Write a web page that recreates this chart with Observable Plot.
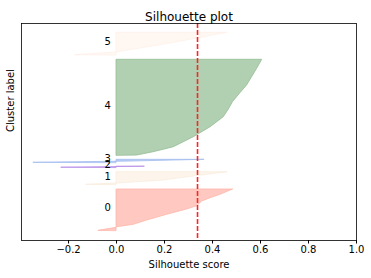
<!DOCTYPE html>
<html>
<head>
<meta charset="utf-8">
<script src="https://cdn.jsdelivr.net/npm/d3@7"></script>
<script src="https://cdn.jsdelivr.net/npm/@observablehq/plot@0.6"></script>
<style>
  html, body { margin: 0; padding: 0; background: #fff; }
</style>
</head>
<body>
<div id="chart"></div>
<script>
// ---- data ----
const clusterLabels = ["0", "1", "2", "3", "4", "5"];
// each profile: [sample position, silhouette value] along the sorted cluster
const profile0 = [[9.7,-0.074],[12.7,0.0],[13.3,0.003],[15.7,0.072],[20,0.128],[25.7,0.211],[31,0.294],[34.3,0.336],[39,0.357],[42.3,0.392],[45.7,0.433],[51,0.486]];
const profile1 = [[55.7,-0.125],[57,0.0],[60,0.196],[64,0.32],[68.3,0.463]];
const profile2 = [[72.8,-0.229],[73.8,0.118]];
const profile3 = [[77.7,-0.345],[78.9,0.05],[80.7,0.367]];
const profile4 = [[85,0.086],[88.3,0.155],[93.3,0.239],[103.3,0.322],[113.3,0.392],[123.3,0.447],[131,0.468],[138.3,0.485],[147,0.515],[155,0.544],[171.7,0.586],[180.7,0.607]];
const profile5 = [[185.3,-0.171],[188,0.0],[196,0.2],[203,0.36],[207.7,0.461]];
const meanScore = 0.3375;
const xTicks = [-0.2, 0.0, 0.2, 0.4, 0.6, 0.8, 1.0];
const xDomain = [-0.396, 1.0];
const yDomain = [0, 217];

// ---- styles ----
const fills   = ["#ffc8c0", "#fdf5ec", "#c9a4ee", "#b9cdf4", "#b1d0b1", "#fff7f2"];
const strokes = ["#ffb6aa", "#f9ecdd", "#b88ee8", "#a3bdf0", "#94bd94", "#fff0e8"];

const profiles = [profile0, profile1, profile2, profile3, profile4, profile5];
const areaData = profiles.map((p, i) => p.map(([y, v]) => ({cluster: i, y, v})));
const labelData = profiles.map((p, i) => ({
  label: clusterLabels[i],
  y: (p[0][0] + p[p.length - 1][0]) / 2
}));

const font = "DejaVu Sans, Liberation Sans, sans-serif";

const marks = [];
areaData.forEach((d, i) => {
  marks.push(Plot.areaX(d, {
    y: "y", x1: 0, x2: "v", curve: "linear",
    fill: fills[i], stroke: strokes[i], strokeWidth: 0.8
  }));
});
marks.push(Plot.text(labelData, {
  x: -0.05, y: "y", text: "label", textAnchor: "start", lineAnchor: "bottom",
  fontSize: 10, fill: "#000", dy: 1
}));
marks.push(Plot.ruleX([meanScore], {stroke: "#ff2424", strokeWidth: 1.6, strokeDasharray: "5,2"}));
marks.push(Plot.frame({stroke: "#000", strokeWidth: 0.8}));
marks.push(Plot.axisX({
  ticks: xTicks, tickSize: 3.5, tickPadding: 2, tickFormat: d3.format(".1f"),
  label: null, fontSize: 10, stroke: "#000"
}));
marks.push(Plot.text(["Silhouette score"], {frameAnchor: "bottom", dy: 27, fontSize: 10, fill: "#000"}));
marks.push(Plot.text(["Cluster label"], {frameAnchor: "left", dx: -11, rotate: -90, fontSize: 10, fill: "#000"}));
marks.push(Plot.text(["Silhouette plot"], {frameAnchor: "top", dy: -11, fontSize: 12, fill: "#000"}));

const chart = Plot.plot({
  width: 371,
  height: 278,
  marginLeft: 21,
  marginRight: 15,
  marginTop: 23,
  marginBottom: 38,
  style: {fontFamily: font, fontSize: "10px", background: "#fff", color: "#000"},
  x: {domain: xDomain},
  y: {domain: yDomain, axis: null},
  marks
});
document.getElementById("chart").appendChild(chart);
</script>
</body>
</html>
